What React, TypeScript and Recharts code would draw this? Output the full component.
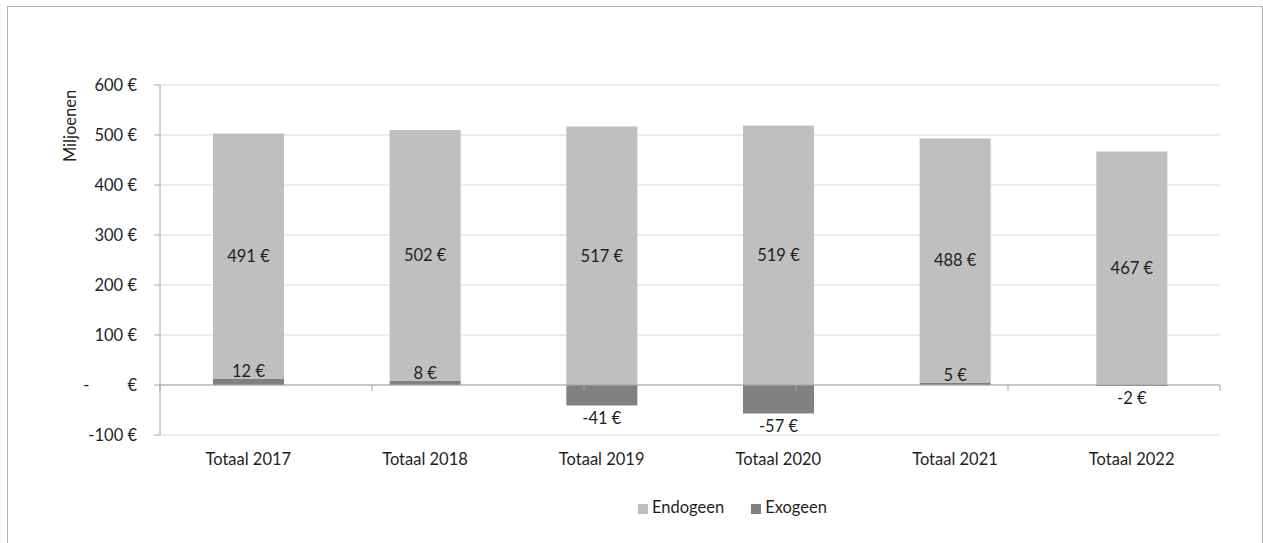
import React from 'react';
import {
  BarChart,
  Bar,
  XAxis,
  YAxis,
  CartesianGrid,
  Legend,
  LabelList,
  ReferenceLine,
} from 'recharts';

const categories = ['Totaal 2017', 'Totaal 2018', 'Totaal 2019', 'Totaal 2020', 'Totaal 2021', 'Totaal 2022'];
const endogeen = [491, 502, 517, 519, 488, 467];
const exogeen = [12, 8, -41, -57, 5, -2];
const yTicks = [-100, 0, 100, 200, 300, 400, 500, 600];

const data = categories.map((name, i) => ({
  name,
  Endogeen: endogeen[i],
  Exogeen: exogeen[i],
}));

// category boundaries, for the small tick marks on the zero line
const edges = categories.map((_, i) => i).concat(categories.length);

const FONT = 'Lato, "Open Sans", sans-serif';
const FS = 16.5;
const TEXT = '#1f1f1f';
const AXIS = '#a6a6a6';
const GRID = '#d9d9d9';

const euro = (v: number) =>
  v === 0 ? '-\u00a0\u00a0\u00a0\u00a0\u00a0\u00a0\u00a0\u00a0\u00a0€' : `${v}\u00a0€`;

const ExoLabel = (props: any) => {
  const { x, y, width, height, value } = props;
  const top = Math.min(y, y + height);
  const bottom = Math.max(y, y + height);
  const cx = x + width / 2;
  const neg = value < 0;
  return (
    <text
      x={cx}
      y={neg ? bottom + 18 : top - 2}
      textAnchor="middle"
      fill={TEXT}
      fontSize={FS}
      fontFamily={FONT}
    >
      {`${value}\u00a0€`}
    </text>
  );
};

const AxisTitle = (props: any) => {
  const { viewBox } = props;
  const x = viewBox.x + 62;
  const y = viewBox.y + 41;
  return (
    <text
      x={x}
      y={y}
      transform={`rotate(-90, ${x}, ${y})`}
      textAnchor="middle"
      dominantBaseline="central"
      fill={TEXT}
      fontSize={FS}
      fontFamily={FONT}
    >
      Miljoenen
    </text>
  );
};

const App: React.FC = () => {
  return (
    <div
      style={{
        position: 'absolute',
        left: 7,
        top: 6,
        width: 1256,
        height: 560,
        boxSizing: 'border-box',
        border: '1px solid #b4b4b4',
        background: '#fff',
        fontFamily: FONT,
      }}
    >
      <BarChart
        width={1254}
        height={536}
        data={data}
        stackOffset="sign"
        barCategoryGap="30%"
        margin={{ top: 78, right: 42, bottom: 78, left: 0 }}
      >
        <CartesianGrid vertical={false} stroke={GRID} />
        <XAxis
          dataKey="name"
          height={30}
          axisLine={false}
          tickLine={false}
          tickSize={0}
          tickMargin={18}
          tick={{ fill: TEXT, fontSize: FS, fontFamily: FONT }}
        />
        <XAxis xAxisId="edges" type="number" domain={[0, categories.length]} hide />
        <YAxis
          width={152}
          domain={[-100, 600]}
          ticks={yTicks}
          tickFormatter={euro}
          stroke={AXIS}
          tickSize={6}
          tickMargin={17}
          tick={{ fill: TEXT, fontSize: FS, fontFamily: FONT }}
          label={{ content: AxisTitle }}
        />
        <ReferenceLine y={0} stroke={AXIS} />
        {edges.map((e) => (
          <ReferenceLine
            key={e}
            xAxisId="edges"
            segment={[
              { x: e, y: 0 },
              { x: e, y: -12 },
            ]}
            stroke={AXIS}
          />
        ))}
        <Legend
          verticalAlign="middle"
          align="center"
          iconType="square"
          iconSize={10}
          wrapperStyle={{ top: 490, left: 630, width: 'auto', fontSize: FS, fontFamily: FONT, color: TEXT }}
          formatter={(value) => (
            <span style={{ color: TEXT, marginRight: 17 }}>{value}</span>
          )}
        />
        <Bar dataKey="Exogeen" stackId="a" fill="#808080" isAnimationActive={false}>
          <LabelList dataKey="Exogeen" content={ExoLabel} />
        </Bar>
        <Bar dataKey="Endogeen" stackId="a" fill="#bfbfbf" isAnimationActive={false}>
          <LabelList
            dataKey="Endogeen"
            position="center"
            fill={TEXT}
            fontSize={FS}
            fontFamily={FONT}
            formatter={(v: any) => `${v}\u00a0€`}
          />
        </Bar>
      </BarChart>
    </div>
  );
};

export default App;
